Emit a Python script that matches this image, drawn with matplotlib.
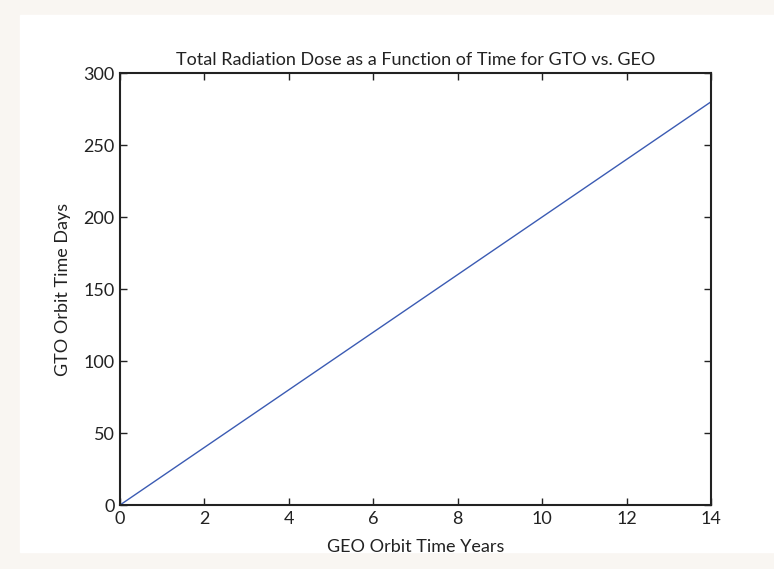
import matplotlib
matplotlib.use("Agg")
import matplotlib.pyplot as plt
from matplotlib.patches import Rectangle

# data: GTO days vs GEO years
geo_years = [0, 14]
gto_days = [0, 280]
x_ticks = [0, 2, 4, 6, 8, 10, 12, 14]
y_ticks = [0, 50, 100, 150, 200, 250, 300]

plt.rcParams['font.family'] = ['Lato', 'DejaVu Sans']

fig = plt.figure(figsize=(7.74, 5.69), dpi=100, facecolor='#f9f6f2')
# white page area behind the plot
fig.patches.append(Rectangle((20/774, 1 - 552/569), 754/774, 537/569,
                             transform=fig.transFigure, color='white', zorder=-5))

ax = fig.add_axes([120/774, 1 - 505/569, 591/774, 432/569])
ax.set_zorder(2)
ax.plot(geo_years, gto_days, color='#3b5bb3', linewidth=1)

ax.set_xlim(0, 14)
ax.set_ylim(0, 300)
ax.set_xticks(x_ticks)
ax.set_yticks(y_ticks)
ax.tick_params(direction='in', top=True, right=True, length=5, width=1,
               labelsize=13, pad=4, colors='#222222')
for s in ax.spines.values():
    s.set_linewidth(1.5)
    s.set_color('#222222')

ax.set_title("Total Radiation Dose as a Function of Time for GTO vs. GEO",
             fontsize=13, pad=6, color='#222222')
ax.set_xlabel("GEO Orbit Time Years", fontsize=13, labelpad=9, color='#222222')
ax.set_ylabel("GTO Orbit Time Days", fontsize=13, labelpad=9, color='#222222')

plt.savefig('out.png', dpi=100, facecolor=fig.get_facecolor())
